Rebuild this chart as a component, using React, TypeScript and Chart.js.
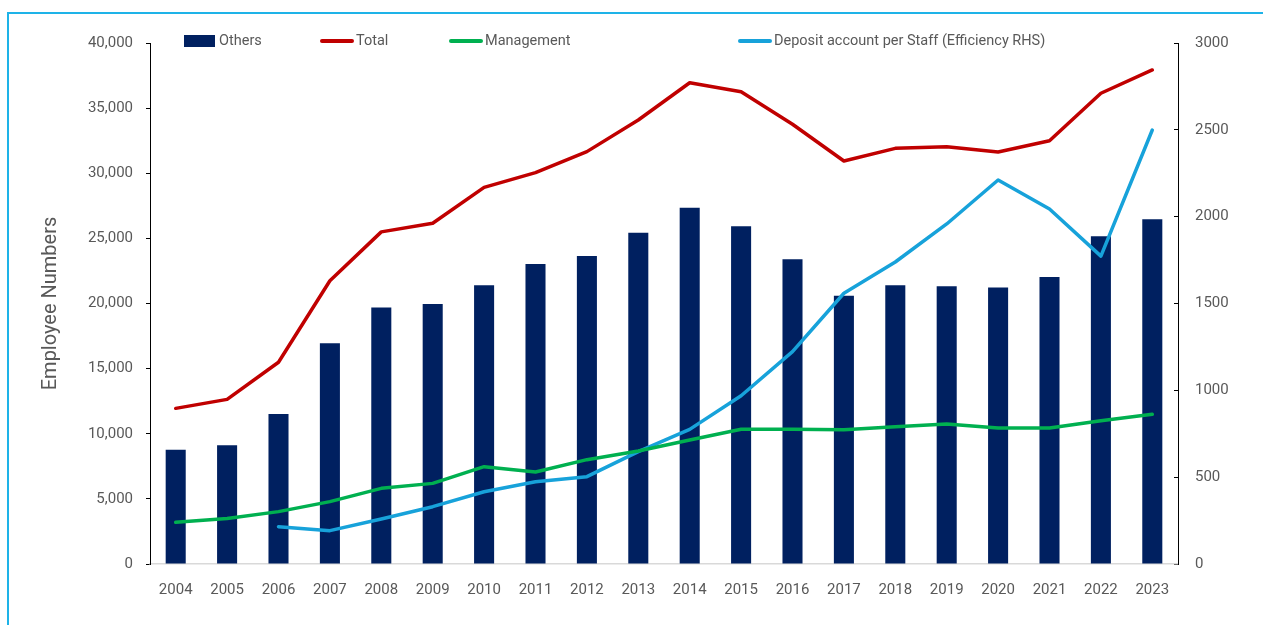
import React, { useEffect, useRef } from "react";
import { Chart, registerables } from "chart.js";

Chart.register(...registerables);

const years = ["2004", "2005", "2006", "2007", "2008", "2009", "2010", "2011", "2012", "2013", "2014", "2015", "2016", "2017", "2018", "2019", "2020", "2021", "2022", "2023"];
const others = [8780, 9110, 11520, 16940, 19700, 19960, 21400, 23030, 23650, 25440, 27360, 25930, 23390, 20600, 21400, 21320, 21220, 22030, 25160, 26460];
const total = [11950, 12640, 15490, 21750, 25500, 26160, 28920, 30050, 31660, 34090, 36950, 36260, 33760, 30940, 31910, 32040, 31630, 32500, 36140, 37930];
const management = [3200, 3500, 4020, 4790, 5810, 6190, 7470, 7060, 8010, 8670, 9520, 10340, 10340, 10310, 10540, 10750, 10440, 10440, 11000, 11490];
const deposit = [null, null, 215, 192, 259, 330, 416, 474, 503, 647, 775, 969, 1223, 1559, 1739, 1958, 2211, 2044, 1773, 2499];
const leftAxis = { min: 0, max: 40000, step: 5000 };
const rightAxis = { min: 0, max: 3000, step: 500 };
const seriesNames = ["Others", "Total", "Management", "Deposit account per Staff (Efficiency RHS)"];

const FONT = "Roboto";
const TEXT = "#595959";
const NAVY = "#002060";
const RED = "#C00000";
const GREEN = "#00B050";
const BLUE = "#17A2DA";

const legendStarts = [184, 320, 449, 738];

const legendPlugin = {
  id: "customLegend",
  afterDraw(chart: any) {
    const ctx = chart.ctx;
    const y = 41;
    ctx.save();
    ctx.font = `14.5px ${FONT}`;
    ctx.textBaseline = "middle";
    chart.data.datasets.forEach((ds: any, i: number) => {
      const x0 = legendStarts[i];
      let tx: number;
      if (ds.type === "bar") {
        ctx.fillStyle = ds.backgroundColor;
        ctx.fillRect(x0, y - 6, 31, 12);
        tx = x0 + 35;
      } else {
        ctx.strokeStyle = ds.borderColor;
        ctx.lineWidth = 4;
        ctx.lineCap = "round";
        ctx.beginPath();
        ctx.moveTo(x0 + 2, y);
        ctx.lineTo(x0 + 32, y);
        ctx.stroke();
        tx = x0 + 36;
      }
      ctx.fillStyle = TEXT;
      ctx.textAlign = "left";
      ctx.fillText(ds.label, tx, y);
    });
    ctx.restore();
  },
};

export default function App() {
  const ref = useRef<HTMLCanvasElement | null>(null);

  useEffect(() => {
    if (!ref.current) return;
    const tickFont = { family: FONT, size: 15 };
    const chart = new Chart(ref.current, {
      type: "bar",
      data: {
        labels: years,
        datasets: [
          {
            type: "bar",
            label: seriesNames[0],
            data: others,
            backgroundColor: NAVY,
            borderWidth: 0,
            categoryPercentage: 1,
            barPercentage: 0.39,
            yAxisID: "y",
            order: 4,
          },
          {
            type: "line",
            label: seriesNames[1],
            data: total,
            borderColor: RED,
            backgroundColor: RED,
            borderWidth: 3.5,
            pointRadius: 0,
            tension: 0,
            borderCapStyle: "round",
            borderJoinStyle: "round",
            yAxisID: "y",
            order: 1,
          },
          {
            type: "line",
            label: seriesNames[2],
            data: management,
            borderColor: GREEN,
            backgroundColor: GREEN,
            borderWidth: 3.5,
            pointRadius: 0,
            tension: 0,
            borderCapStyle: "round",
            borderJoinStyle: "round",
            yAxisID: "y",
            order: 2,
          },
          {
            type: "line",
            label: seriesNames[3],
            data: deposit,
            borderColor: BLUE,
            backgroundColor: BLUE,
            borderWidth: 3.5,
            pointRadius: 0,
            tension: 0,
            borderCapStyle: "round",
            borderJoinStyle: "round",
            yAxisID: "y1",
            order: 3,
          },
        ],
      } as any,
      options: {
        animation: false,
        responsive: true,
        maintainAspectRatio: false,
        layout: { padding: { left: 0, right: 0, top: 43, bottom: 0 } },
        plugins: {
          legend: { display: false },
          tooltip: { enabled: false },
        },
        scales: {
          x: {
            ticks: { color: TEXT, font: tickFont, padding: 17, maxRotation: 0, autoSkip: false },
            grid: { display: false, drawTicks: false },
            border: { display: true, color: "#D9D9D9", width: 1.5 },
            afterFit: (s: any) => { s.height = 61; },
          },
          y: {
            position: "left",
            min: leftAxis.min,
            max: leftAxis.max,
            ticks: {
              stepSize: leftAxis.step,
              color: TEXT,
              font: tickFont,
              padding: 13,
              callback: (v: any) => Number(v).toLocaleString("en-US"),
            },
            grid: { drawOnChartArea: false, drawTicks: true, tickLength: 4, color: "#000", lineWidth: 1 },
            border: { display: true, color: "#000", width: 1 },
            title: {
              display: true,
              text: "Employee Numbers",
              color: TEXT,
              font: { family: FONT, size: 20 },
              padding: { top: 39, bottom: 0 },
            },
            afterFit: (s: any) => { s.width = 150; },
          },
          y1: {
            position: "right",
            min: rightAxis.min,
            max: rightAxis.max,
            ticks: {
              stepSize: rightAxis.step,
              color: TEXT,
              font: tickFont,
              padding: 21,
              callback: (v: any) => String(v),
            },
            grid: { drawOnChartArea: false, drawTicks: true, tickLength: -4, color: "#000", lineWidth: 1 },
            border: { display: true, color: "#000", width: 1 },
            afterFit: (s: any) => { s.width = 85; },
          },
        },
      } as any,
      plugins: [legendPlugin],
    });
    return () => chart.destroy();
  }, []);

  return (
    <>
      <div
        style={{
          position: "fixed",
          left: 7,
          top: 12,
          right: -10,
          bottom: -10,
          borderTop: "2px solid #1EB3E8",
          borderLeft: "2px solid #1EB3E8",
        }}
      />
      <div style={{ position: "fixed", left: 0, top: 0, width: 1263, height: 625 }}>
        <canvas ref={ref} />
      </div>
    </>
  );
}
